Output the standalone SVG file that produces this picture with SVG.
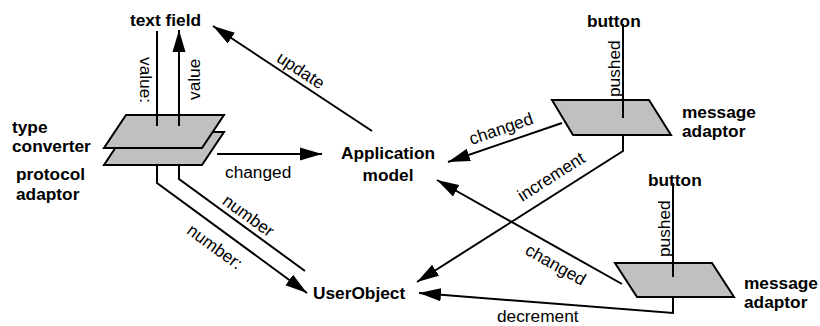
<svg xmlns="http://www.w3.org/2000/svg" width="820" height="326" viewBox="0 0 820 326">
<style>
text{font-family:"Liberation Sans",Arial,sans-serif;font-size:17.3px;fill:#000}
.b{font-weight:bold}
.m{text-anchor:middle}
.shape{fill:#c0c0c0;stroke:#000;stroke-width:2;stroke-linejoin:miter}
.ln{fill:none;stroke:#000;stroke-width:2}
</style>
<defs>
<marker id="ah" markerUnits="userSpaceOnUse" markerWidth="24" markerHeight="14" refX="22" refY="7" orient="auto">
<path d="M0,0.5 L22,7 L0,13.5 z" fill="#000"/>
</marker>
</defs>
<rect width="820" height="326" fill="#fff"/>
<g id="nodes">
<g id="text-field"><text class="b" x="130" y="26">text field</text></g>
<g id="protocol-adaptor">
<polygon class="shape" points="126,132 224,132 202,165 104,165"/>
<text class="b" x="16" y="179.5">protocol</text>
<text class="b" x="16" y="200">adaptor</text>
</g>
<g id="type-converter">
<polygon class="shape" points="126,115 224,115 202,148 104,148"/>
<text class="b" x="12" y="133">type</text>
<text class="b" x="12" y="152">converter</text>
</g>
<g id="application-model">
<text class="b m" x="388" y="159">Application</text>
<text class="b m" x="388" y="181">model</text>
</g>
<g id="user-object"><text class="b" x="313" y="299">UserObject</text></g>
<g id="button-1"><text class="b" x="587" y="27">button</text></g>
<g id="message-adaptor-1">
<polygon class="shape" points="552,100 649,100 671,135 573,135"/>
<text class="b" x="682" y="118">message</text>
<text class="b" x="682" y="137">adaptor</text>
</g>
<g id="button-2"><text class="b" x="648" y="186">button</text></g>
<g id="message-adaptor-2">
<polygon class="shape" points="615,263 712,263 734,297 637,297"/>
<text class="b" x="744" y="289">message</text>
<text class="b" x="744" y="308">adaptor</text>
</g>
</g>
<g id="connectors">
<path class="ln" d="M372,131 L213,26" marker-end="url(#ah)"/>
<text class="m" transform="translate(297.6,75.2) rotate(33.4)">update</text>
<path class="ln" d="M157,126 V31"/>
<text transform="translate(139.5,57) rotate(90)">value:</text>
<path class="ln" d="M179,126 V30" marker-end="url(#ah)"/>
<text transform="translate(199.5,100) rotate(-90)">value</text>
<path class="ln" d="M217,154 H322" marker-end="url(#ah)"/>
<text x="225" y="178">changed</text>
<path class="ln" d="M179,165 V179 L305,271"/>
<text class="m" transform="translate(244.9,220.5) rotate(36)">number</text>
<path class="ln" d="M157,165 V183 L307,293" marker-end="url(#ah)"/>
<text class="m" transform="translate(211.4,251.5) rotate(36)">number:</text>
<path class="ln" d="M623,24 V118"/>
<text transform="translate(620,97) rotate(-90)">pushed</text>
<path class="ln" d="M562,123 L448,162" marker-end="url(#ah)"/>
<text class="m" transform="translate(502.9,134.2) rotate(-18.9)">changed</text>
<path class="ln" d="M623,135 V151 L417,282" marker-end="url(#ah)"/>
<text class="m" transform="translate(554.2,181.6) rotate(-32.5)">increment</text>
<path class="ln" d="M673,183 V277"/>
<text transform="translate(670,257) rotate(-90)">pushed</text>
<path class="ln" d="M622,284 L437,180" marker-end="url(#ah)"/>
<text class="m" transform="translate(552.8,269.8) rotate(29.3)">changed</text>
<path class="ln" d="M673,297 V313 L419,293" marker-end="url(#ah)"/>
<text x="497" y="321.5">decrement</text>
</g>
</svg>
